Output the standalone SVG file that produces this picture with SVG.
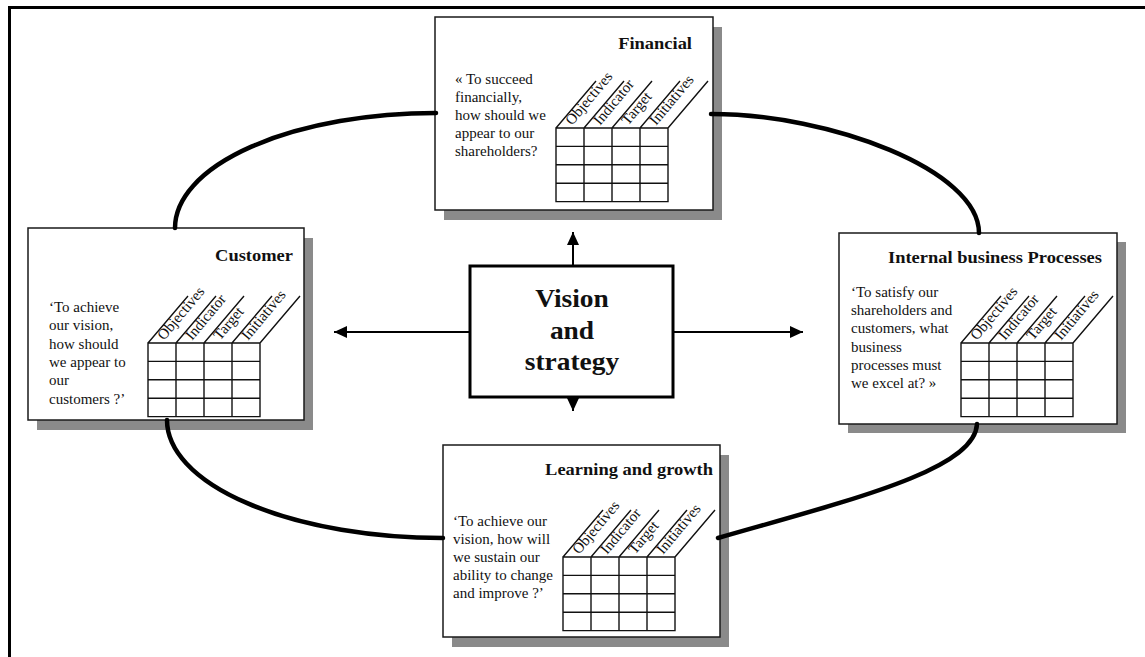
<svg xmlns="http://www.w3.org/2000/svg" width="1145" height="657" viewBox="0 0 1145 657">
<style>
  .frame{fill:none;stroke:#000;stroke-width:3}
  .box{fill:#fff;stroke:#1a1a1a;stroke-width:1.5}
  .shadow{fill:#8a8a8a}
  .grid{fill:none;stroke:#111;stroke-width:1.4}
  .core-box{fill:#fff;stroke:#000;stroke-width:3}
  .title{font-family:"Liberation Serif","Times New Roman",serif;font-weight:bold;font-size:16.5px;text-anchor:end;fill:#111}
  .body{font-family:"Liberation Serif","Times New Roman",serif;font-size:15px;fill:#111}
  .head{font-family:"Liberation Serif","Times New Roman",serif;font-size:15px;fill:#111}
  .core{font-family:"Liberation Serif","Times New Roman",serif;font-weight:bold;font-size:24.5px;text-anchor:middle;fill:#111}
  .link{fill:none;stroke:#000;stroke-width:4.5;stroke-linecap:round}
  .arrow{fill:none;stroke:#000;stroke-width:2;marker-end:url(#tip)}
</style>
<defs>
  <marker id="tip" markerUnits="userSpaceOnUse" markerWidth="14" markerHeight="14" refX="13" refY="6" orient="auto">
    <path d="M0,0 L13,6 L0,12 Z" fill="#000"/>
  </marker>
  <!-- 4x4 scorecard grid with slanted column headers -->
  <path id="table" class="grid" d="M0,0 H112 V73.6 H0 Z M28,0 V73.6 M56,0 V73.6 M84,0 V73.6 M0,18.4 H112 M0,36.8 H112 M0,55.2 H112 M0,0 l40,-47 M28,0 l40,-47 M56,0 l40,-47 M84,0 l40,-47 M112,0 l40,-47"/>
</defs>

<rect width="1145" height="657" fill="#fff"/>
<path class="frame" d="M8,7.5 H1145 M9.5,6 V657"/>

<g id="financial">
  <rect class="shadow" x="444" y="27" width="278" height="193"/>
  <rect class="box" x="435" y="17" width="278" height="193"/>
  <text class="title" transform="translate(692 49) scale(1.12 1)">Financial</text>
  <text class="body" x="455" y="84">« To succeed<tspan x="455" dy="18">financially,</tspan><tspan x="455" dy="18">how should we</tspan><tspan x="455" dy="18">appear to our</tspan><tspan x="455" dy="18">shareholders?</tspan></text>
  <use href="#table" x="556" y="128"/>
  <text class="head" transform="translate(572 126) rotate(-50)">Objectives</text>
  <text class="head" transform="translate(600 126) rotate(-50)">Indicator</text>
  <text class="head" transform="translate(628 126) rotate(-50)">Target</text>
  <text class="head" transform="translate(656 126) rotate(-50)">Initiatives</text>
</g>

<g id="customer">
  <rect class="shadow" x="37" y="238" width="276" height="192"/>
  <rect class="box" x="28" y="228" width="276" height="192"/>
  <text class="title" transform="translate(293 261) scale(1.12 1)">Customer</text>
  <text class="body" x="49" y="312">‘To achieve<tspan x="49" dy="18.3">our vision,</tspan><tspan x="49" dy="18.3">how should</tspan><tspan x="49" dy="18.3">we appear to</tspan><tspan x="49" dy="18.3">our</tspan><tspan x="49" dy="18.3">customers ?’</tspan></text>
  <use href="#table" x="148" y="343"/>
  <text class="head" transform="translate(164 341) rotate(-50)">Objectives</text>
  <text class="head" transform="translate(192 341) rotate(-50)">Indicator</text>
  <text class="head" transform="translate(220 341) rotate(-50)">Target</text>
  <text class="head" transform="translate(248 341) rotate(-50)">Initiatives</text>
</g>

<g id="internal">
  <rect class="shadow" x="848" y="242" width="278" height="191"/>
  <rect class="box" x="839" y="233" width="278" height="191"/>
  <text class="title" transform="translate(1102 263) scale(1.12 1)">Internal business Processes</text>
  <text class="body" x="851" y="297">‘To satisfy our<tspan x="851" dy="18.2">shareholders and</tspan><tspan x="851" dy="18.2">customers, what</tspan><tspan x="851" dy="18.2">business</tspan><tspan x="851" dy="18.2">processes must</tspan><tspan x="851" dy="18.2">we excel at? »</tspan></text>
  <use href="#table" x="961" y="343"/>
  <text class="head" transform="translate(977 341) rotate(-50)">Objectives</text>
  <text class="head" transform="translate(1005 341) rotate(-50)">Indicator</text>
  <text class="head" transform="translate(1033 341) rotate(-50)">Target</text>
  <text class="head" transform="translate(1061 341) rotate(-50)">Initiatives</text>
</g>

<g id="learning">
  <rect class="shadow" x="452" y="455" width="277" height="192"/>
  <rect class="box" x="443" y="445" width="277" height="192"/>
  <text class="title" transform="translate(713 475) scale(1.12 1)">Learning and growth</text>
  <text class="body" x="453" y="526">‘To achieve our<tspan x="453" dy="18">vision, how will</tspan><tspan x="453" dy="18">we sustain our</tspan><tspan x="453" dy="18">ability to change</tspan><tspan x="453" dy="18">and improve ?’</tspan></text>
  <use href="#table" x="563" y="557"/>
  <text class="head" transform="translate(579 555) rotate(-50)">Objectives</text>
  <text class="head" transform="translate(607 555) rotate(-50)">Indicator</text>
  <text class="head" transform="translate(635 555) rotate(-50)">Target</text>
  <text class="head" transform="translate(663 555) rotate(-50)">Initiatives</text>
</g>

<g id="vision">
  <rect class="core-box" x="470" y="266" width="203" height="131"/>
  <text class="core" transform="translate(572 307) scale(1.12 1)">Vision</text>
  <text class="core" transform="translate(572 339) scale(1.12 1)">and</text>
  <text class="core" transform="translate(572 370) scale(1.12 1)">strategy</text>
</g>

<g id="connectors">
  <path class="link" d="M175,228 A261,115 0 0 1 436,113"/>
  <path class="link" d="M711,114 C830,114 979,170 979,233"/>
  <path class="link" d="M167,420 A276,118 0 0 0 443,538"/>
  <path class="link" d="M718,538 C850,500 975,470 977,424"/>
  <line class="arrow" x1="573" y1="266" x2="573" y2="232"/>
  <line class="arrow" x1="573" y1="398" x2="573" y2="411"/>
  <line class="arrow" x1="470" y1="332" x2="334" y2="332"/>
  <line class="arrow" x1="673" y1="332" x2="803" y2="332"/>
</g>
</svg>
